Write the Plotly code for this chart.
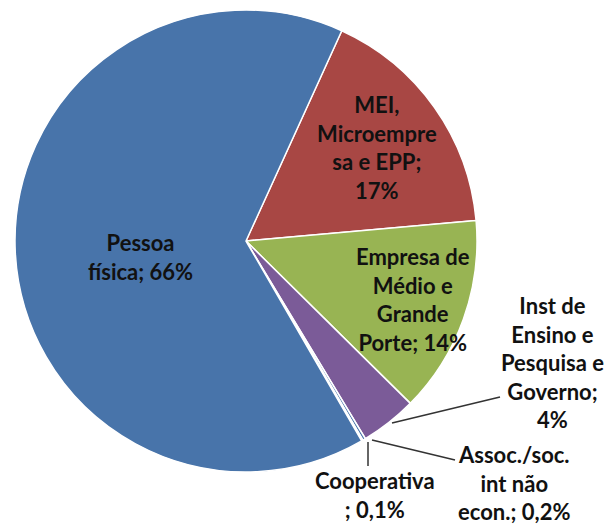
import plotly.graph_objects as go

W, H = 605, 526

categories = ["MEI, Microempresa e EPP", "Empresa de Médio e Grande Porte",
              "Inst de Ensino e Pesquisa e Governo", "Assoc./soc. int não econ.",
              "Cooperativa", "Pessoa física"]
values = [17, 14, 4, 0.2, 0.1, 66]
label_texts = ["MEI,<br>Microempre<br>sa e EPP;<br>17%",
               "Empresa de<br>Médio e<br>Grande<br>Porte; 14%",
               "Inst de<br>Ensino e<br>Pesquisa e<br>Governo;<br>4%",
               "Assoc./soc.<br>int não<br>econ.; 0,2%",
               "Cooperativa<br>; 0,1%",
               "Pessoa<br>física; 66%"]
colors = ["#A84744", "#98B453", "#7B5B98", "#4874AA", "#4874AA", "#4874AA"]

# label centre positions in pixels
label_pos = [(377, 147), (413, 299), (552, 362), (514, 483), (375, 495), (140, 257)]
# leader lines (pixel coords)
leaders = [((392, 423), (500, 397)), ((372, 440), (455, 460)), ((368, 442), (368, 466))]

def px(x):
    return x / W

def py(y):
    return 1 - y / H

fig = go.Figure(go.Pie(
    labels=categories,
    values=values,
    sort=False,
    direction="clockwise",
    rotation=24.5,
    marker=dict(colors=colors, line=dict(color="white", width=1.5)),
    textinfo="none",
    hoverinfo="label+percent",
    domain=dict(x=[px(15), px(477)], y=[py(472), py(10)]),
    showlegend=False,
))

font = dict(family="Lato, Carlito, Calibri, sans-serif", size=22, color="#111111", weight="bold")
annotations = []
for t, (x, y) in zip(label_texts, label_pos):
    annotations.append(dict(x=px(x), y=py(y), xref="paper", yref="paper", text=t,
                            showarrow=False, font=font, align="center",
                            xanchor="center", yanchor="middle"))
shapes = []
for (a, b) in leaders:
    shapes.append(dict(type="line", xref="paper", yref="paper",
                       x0=px(a[0]), y0=py(a[1]), x1=px(b[0]), y1=py(b[1]),
                       line=dict(color="#333333", width=1.5)))

fig.update_layout(width=W, height=H, margin=dict(l=0, r=0, t=0, b=0),
                  paper_bgcolor="white", plot_bgcolor="white",
                  annotations=annotations, shapes=shapes)
fig.write_html("out.html", config={"displayModeBar": False},
               post_script="document.body.style.margin='0';document.body.style.overflow='hidden';")
